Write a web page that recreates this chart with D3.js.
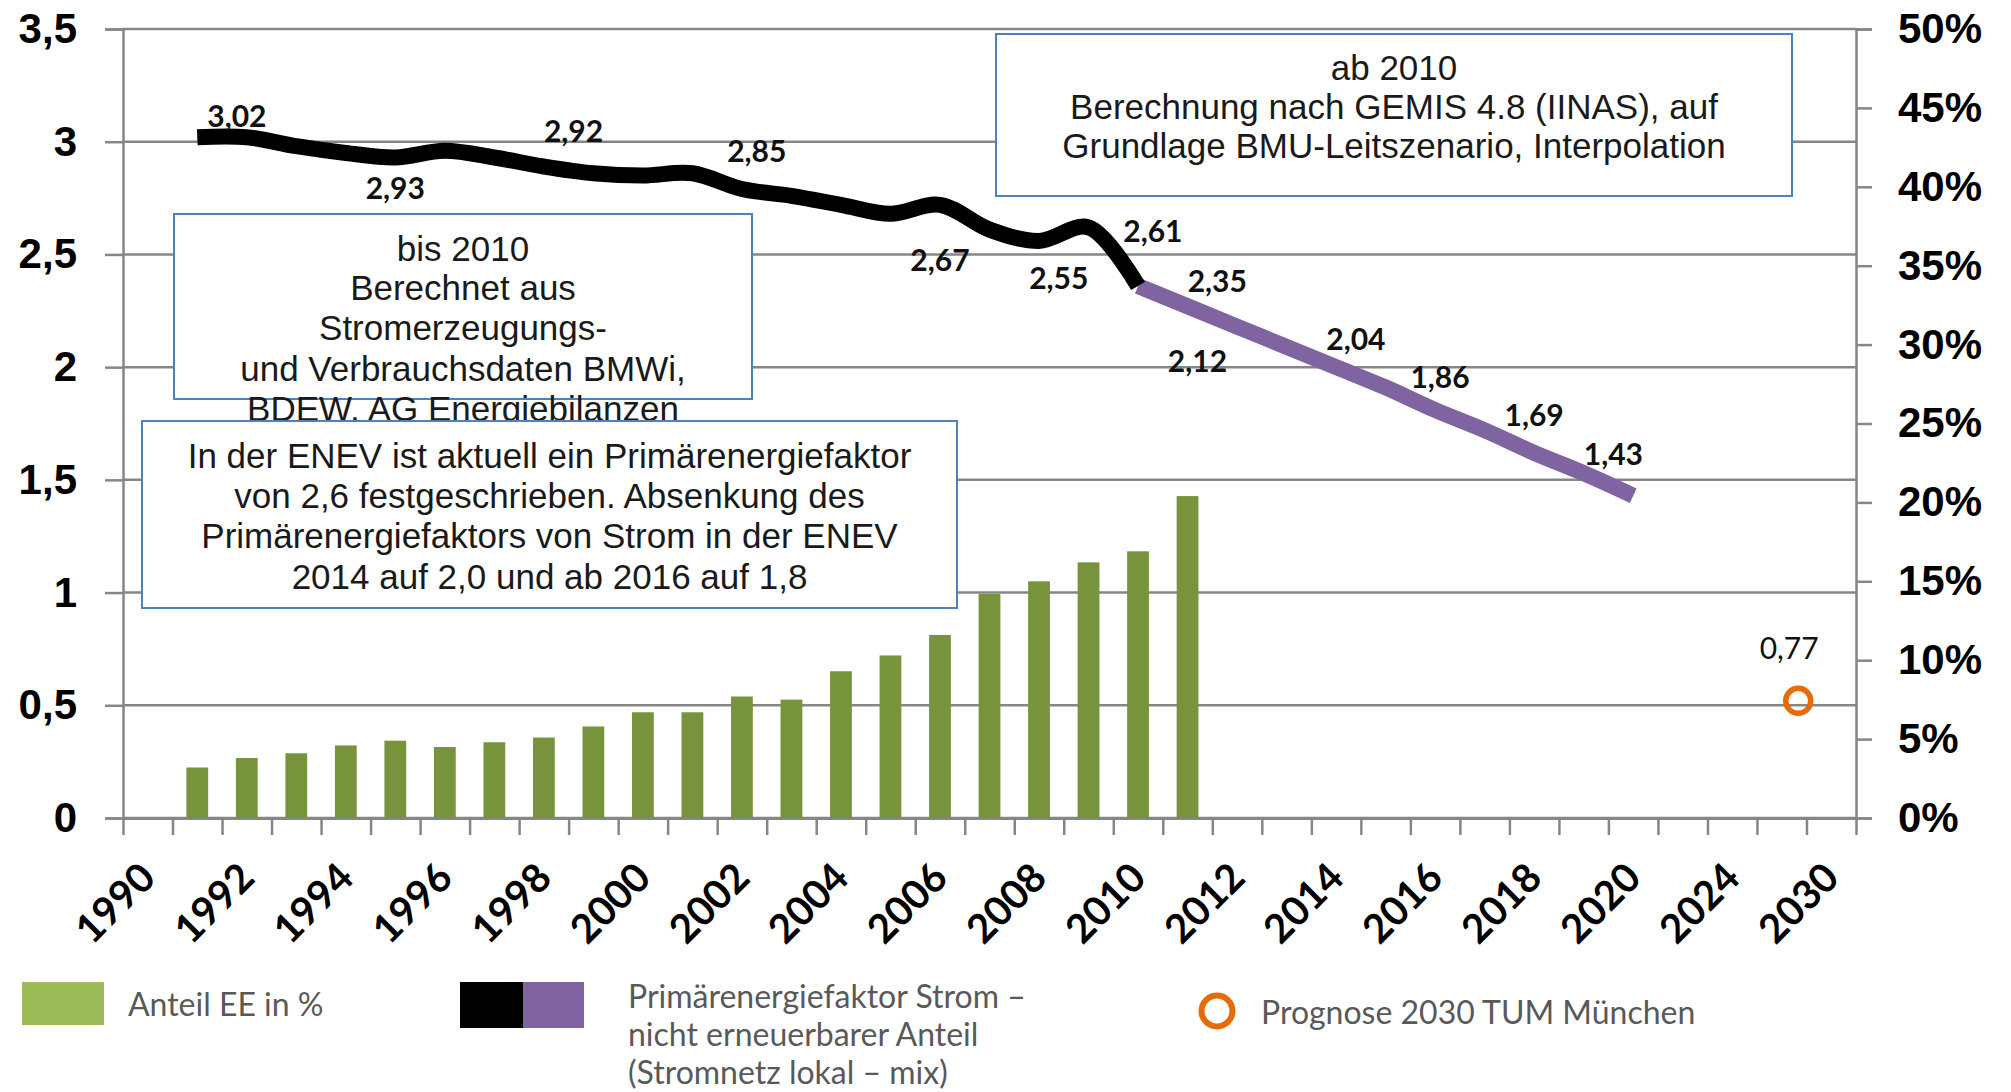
<!DOCTYPE html>
<html>
<head>
<meta charset="utf-8">
<script src="https://cdn.jsdelivr.net/npm/d3@7"></script>
<style>
  body { margin: 0; background: #fff; }
  svg { display: block; }
</style>
</head>
<body>
<div id="chart"></div>
<script>
// categories on the x axis (only some are labelled)
const categories = [1990, 1991, 1992, 1993, 1994, 1995, 1996, 1997, 1998, 1999,
    2000, 2001, 2002, 2003, 2004, 2005, 2006, 2007, 2008, 2009,
    2010, 2011, 2012, 2013, 2014, 2015, 2016, 2017, 2018, 2019,
    2020, 2022, 2024, 2027, 2030];
const tickLabels = ["1990", "1992", "1994", "1996", "1998", "2000", "2002", "2004",
    "2006", "2008", "2010", "2012", "2014", "2016", "2018", "2020", "2024", "2030"];

// Anteil EE in % (right axis)
const eeYears = [1991, 1992, 1993, 1994, 1995, 1996, 1997, 1998, 1999, 2000,
    2001, 2002, 2003, 2004, 2005, 2006, 2007, 2008, 2009, 2010, 2011];
const eeShare = [3.2, 3.8, 4.1, 4.6, 4.9, 4.5, 4.8, 5.1, 5.8, 6.7,
    6.7, 7.7, 7.5, 9.3, 10.3, 11.6, 14.2, 15.0, 16.2, 16.9, 20.4];

// Primärenergiefaktor Strom (left axis)
const pefYears = [1991, 1992, 1993, 1994, 1995, 1996, 1997, 1998, 1999, 2000,
    2001, 2002, 2003, 2004, 2005, 2006, 2007, 2008, 2009, 2010,
    2011, 2012, 2013, 2014, 2015, 2016, 2017, 2018, 2019, 2020];
const pefValues = [3.02, 3.02, 2.98, 2.95, 2.93, 2.96, 2.93, 2.89, 2.86, 2.85,
    2.86, 2.79, 2.76, 2.72, 2.68, 2.72, 2.61, 2.56, 2.62, 2.36,
    2.27, 2.18, 2.09, 2.00, 1.91, 1.81, 1.72, 1.62, 1.53, 1.43];
const splitYear = 2010;

// Prognose 2030 TUM München
const prognoseYear = 2028;
const prognoseValue = 0.52;

// data labels: text, anchor year, anchor value
const labelTexts = ["3,02", "2,93", "2,92", "2,85", "2,67", "2,55", "2,61",
    "2,35", "2,12", "2,04", "1,86", "1,69", "1,43", "0,77"];
const labelYears = [1991.8, 1995.0, 1998.6, 2002.3, 2006.0, 2008.4, 2010.3,
    2011.6, 2011.2, 2014.4, 2016.1, 2018.0, 2019.6, 2027.45];
const labelValues = [3.12, 2.80, 3.05, 2.965, 2.48, 2.40, 2.61,
    2.385, 2.03, 2.13, 1.96, 1.79, 1.62, 0.76];

const leftTicks = [0, 0.5, 1, 1.5, 2, 2.5, 3, 3.5];
const rightTicks = [0, 5, 10, 15, 20, 25, 30, 35, 40, 45, 50];

const noteAb2010 = ["ab 2010", "Berechnung nach GEMIS 4.8 (IINAS), auf",
    "Grundlage BMU-Leitszenario, Interpolation"];
const noteBis2010 = ["bis 2010", "Berechnet aus", "Stromerzeugungs-",
    "und Verbrauchsdaten BMWi,", "BDEW, AG Energiebilanzen"];
const noteEnev = ["In der ENEV ist aktuell ein Primärenergiefaktor",
    "von 2,6 festgeschrieben. Absenkung des",
    "Primärenergiefaktors von Strom in der ENEV",
    "2014 auf 2,0 und ab 2016 auf 1,8"];

const width = 2011, height = 1092;
const margin = { left: 123, right: 2011 - 1856, top: 29, bottom: 1092 - 818 };
const plotW = width - margin.left - margin.right;
const plotH = height - margin.top - margin.bottom;

const de = d3.formatLocale({ decimal: ",", thousands: ".", grouping: [3], currency: ["", " €"] });

const svg = d3.select("#chart")
    .append("svg")
    .attr("width", width)
    .attr("height", height)
    .style("font-family", "Lato, 'Open Sans', sans-serif");

svg.append("rect").attr("width", width).attr("height", height).attr("fill", "#fff");

const g = svg.append("g")
    .attr("transform", "translate(" + margin.left + "," + margin.top + ")");

// slot scale: category boundaries
const slot = d3.scaleLinear().domain([0, categories.length]).range([0, plotW]);
// year -> centre of its category (piecewise)
const xYear = d3.scaleLinear()
    .domain(categories)
    .range(categories.map((d, i) => slot(i + 0.5)));

const yLeft = d3.scaleLinear().domain([0, 3.5]).range([plotH, 0]);
const yRight = d3.scaleLinear().domain([0, 50]).range([plotH, 0]);

const gridColor = "#868686";

// gridlines
g.append("g")
    .selectAll("line")
    .data(leftTicks)
    .enter()
    .append("line")
    .attr("x1", 0)
    .attr("x2", plotW)
    .attr("y1", d => yLeft(d))
    .attr("y2", d => yLeft(d))
    .attr("stroke", gridColor)
    .attr("stroke-width", 2.5);

// left axis
const leftAxis = g.append("g")
    .call(d3.axisLeft(yLeft).tickValues(leftTicks).tickFormat(de.format("~g"))
        .tickSize(18).tickPadding(28));
leftAxis.select(".domain").attr("stroke", gridColor).attr("stroke-width", 2.5);
leftAxis.selectAll(".tick line").attr("stroke", gridColor).attr("stroke-width", 2.5);
leftAxis.selectAll("text")
    .style("font-size", "42px")
    .style("font-weight", "700")
    .attr("fill", "#000");

// right axis
const rightAxis = g.append("g")
    .attr("transform", "translate(" + plotW + ",0)")
    .call(d3.axisRight(yRight).tickValues(rightTicks).tickFormat(d => d + "%")
        .tickSize(16).tickPadding(26));
rightAxis.select(".domain").attr("stroke", gridColor).attr("stroke-width", 2.5);
rightAxis.selectAll(".tick line").attr("stroke", gridColor).attr("stroke-width", 2.5);
rightAxis.selectAll("text")
    .style("font-size", "42px")
    .style("font-weight", "700")
    .attr("fill", "#000");

// bottom axis: ticks between categories
const bottomAxis = g.append("g")
    .attr("transform", "translate(0," + plotH + ")")
    .call(d3.axisBottom(slot).tickValues(d3.range(categories.length + 1))
        .tickFormat("").tickSize(17).tickSizeOuter(0));
bottomAxis.select(".domain").attr("stroke", gridColor).attr("stroke-width", 3);
bottomAxis.selectAll(".tick line").attr("stroke", gridColor).attr("stroke-width", 2.5);

g.append("g")
    .selectAll("text")
    .data(tickLabels)
    .enter()
    .append("text")
    .attr("transform", d => "translate(" + (xYear(+d) + 10) + "," + (plotH + 62) + ") rotate(-45)")
    .attr("text-anchor", "end")
    .style("font-size", "40px")
    .style("font-weight", "700")
    .attr("fill", "#000")
    .text(d => d);

// bars
const barW = slot(1) * 0.44;
g.append("g")
    .selectAll("rect")
    .data(eeYears)
    .enter()
    .append("rect")
    .attr("x", d => xYear(d) - barW / 2)
    .attr("width", barW)
    .attr("y", (d, i) => yRight(eeShare[i]))
    .attr("height", (d, i) => plotH - yRight(eeShare[i]))
    .attr("fill", "#77933C");

// notes (drawn over gridlines)
function note(lines, x, y, w, h, lineYs) {
    const n = svg.append("g");
    n.append("rect")
        .attr("x", x).attr("y", y).attr("width", w).attr("height", h)
        .attr("fill", "#fff")
        .attr("stroke", "#4F81BD")
        .attr("stroke-width", 2);
    n.selectAll("text")
        .data(lines)
        .enter()
        .append("text")
        .attr("x", x + w / 2)
        .attr("y", (d, i) => lineYs[i])
        .attr("text-anchor", "middle")
        .attr("dominant-baseline", "central")
        .style("font-family", "'Liberation Sans', Arial, sans-serif")
        .style("font-size", "35px")
        .attr("fill", "#1a1a1a")
        .text(d => d);
}
note(noteAb2010, 996, 34, 796, 162, [67, 106, 145]);
note(noteBis2010, 174, 214, 578, 185, [248, 287, 327, 368, 408]);
note(noteEnev, 142, 421, 815, 187, [455, 495, 535, 576]);

// line
const line = d3.line()
    .x(d => xYear(d[0]))
    .y(d => yLeft(d[1]))
    .curve(d3.curveCatmullRom.alpha(0.5));
const pefPts = pefYears.map((d, i) => [d, pefValues[i]]);

g.append("path")
    .datum(pefPts.filter(d => d[0] >= splitYear))
    .attr("d", line)
    .attr("fill", "none")
    .attr("stroke", "#8064A2")
    .attr("stroke-width", 16)
    .attr("stroke-linejoin", "round");
g.append("path")
    .datum(pefPts.filter(d => d[0] <= splitYear))
    .attr("d", line)
    .attr("fill", "none")
    .attr("stroke", "#000")
    .attr("stroke-width", 16)
    .attr("stroke-linejoin", "round");

// prognose point
g.append("circle")
    .attr("cx", xYear(prognoseYear))
    .attr("cy", yLeft(prognoseValue))
    .attr("r", 12.5)
    .attr("fill", "none")
    .attr("stroke", "#E46C0A")
    .attr("stroke-width", 5.5);

// data labels
g.append("g")
    .selectAll("text")
    .data(labelTexts)
    .enter()
    .append("text")
    .attr("x", (d, i) => xYear(labelYears[i]))
    .attr("y", (d, i) => yLeft(labelValues[i]))
    .attr("text-anchor", "middle")
    .attr("dominant-baseline", "central")
    .style("font-size", "30px")
    .style("font-weight", (d, i) => i === labelTexts.length - 1 ? "400" : "700")
    .attr("fill", "#111")
    .text(d => d);

// legend
const legend = svg.append("g").style("font-size", "32px").attr("fill", "#595959");
legend.append("rect").attr("x", 22).attr("y", 982).attr("width", 82).attr("height", 43).attr("fill", "#9BBB59");
legend.append("text").attr("x", 128).attr("y", 1003).attr("dominant-baseline", "central").text("Anteil EE in %");

legend.append("rect").attr("x", 460).attr("y", 982).attr("width", 63).attr("height", 46).attr("fill", "#000");
legend.append("rect").attr("x", 523).attr("y", 982).attr("width", 61).attr("height", 46).attr("fill", "#8064A2");
legend.selectAll("text.pef")
    .data(["Primärenergiefaktor Strom –", "nicht erneuerbarer Anteil", "(Stromnetz lokal – mix)"])
    .enter()
    .append("text")
    .attr("class", "pef")
    .attr("x", 628)
    .attr("y", (d, i) => 995 + i * 38)
    .attr("dominant-baseline", "central")
    .text(d => d);

legend.append("circle").attr("cx", 1217).attr("cy", 1011).attr("r", 15.5)
    .attr("fill", "none").attr("stroke", "#E46C0A").attr("stroke-width", 6);
legend.append("text").attr("x", 1261).attr("y", 1011).attr("dominant-baseline", "central")
    .text("Prognose 2030 TUM München");
</script>
</body>
</html>
